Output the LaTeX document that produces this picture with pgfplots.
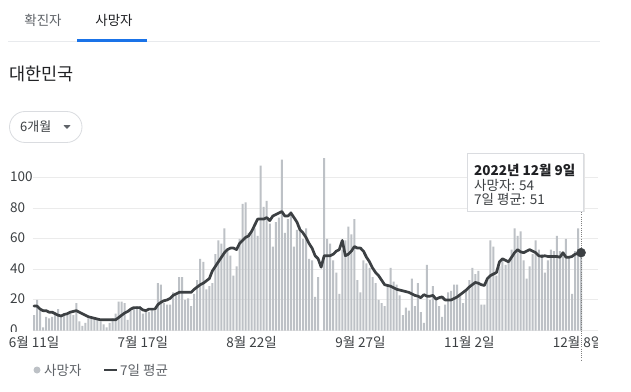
\documentclass[border=0pt]{standalone}
\usepackage{fontspec}
\setmainfont{Noto Sans CJK KR}
\usepackage{pgfplots}
\usepackage{pgfplotstable}
\pgfplotsset{compat=1.18}
\definecolor{bargray}{HTML}{BDC1C6}
\definecolor{linedark}{HTML}{3C4043}
\definecolor{gridc}{HTML}{EBEBEB}
\definecolor{txt}{HTML}{3C4043}
\definecolor{txtlight}{HTML}{5F6368}
\definecolor{gblue}{HTML}{1A73E8}
\definecolor{sepc}{HTML}{E8EAED}
\definecolor{pillc}{HTML}{DADCE0}
\definecolor{titlec}{HTML}{202124}
\newcommand\fs[1]{\fontsize{#1}{#1}\selectfont}
\begin{document}
\pgfplotstableread{
d v
0 10
1 20
2 13
3 2
4 9
5 8
6 9
7 11
8 14
9 10
10 11
11 11
12 11
13 10
14 18
15 6
16 3
17 5
18 8
19 9
20 8
21 7
22 6
23 4
24 2
25 5
26 8
27 11
28 19
29 19
30 18
31 7
32 13
33 14
34 16
35 16
36 11
37 12
38 12
39 14
40 13
41 31
42 30
43 18
44 17
45 17
46 25
47 23
48 35
49 35
50 20
51 21
52 16
53 24
54 33
55 47
56 45
57 27
58 29
59 31
60 50
61 59
62 57
63 67
64 53
65 49
66 36
67 42
68 60
69 83
70 84
71 64
72 65
73 67
74 62
75 108
76 81
77 85
78 70
79 55
80 71
81 74
82 112
83 64
84 73
85 78
86 55
87 66
88 68
89 60
90 67
91 47
92 46
93 22
94 35
95 0
96 113
97 60
98 57
99 46
100 38
101 24
102 53
103 59
104 68
105 63
106 73
107 33
108 25
109 46
110 44
111 41
112 35
113 31
114 20
115 18
116 16
117 30
118 41
119 32
120 30
121 23
122 10
123 15
124 13
125 34
126 16
127 31
128 12
129 5
130 43
131 20
132 29
133 21
134 16
135 9
136 17
137 25
138 26
139 30
140 30
141 24
142 18
143 27
144 33
145 41
146 37
147 39
148 17
149 17
150 33
151 59
152 55
153 36
154 42
155 47
156 43
157 45
158 53
159 67
160 62
161 65
162 46
163 34
164 42
165 50
166 59
167 53
168 50
169 38
170 46
171 53
172 52
173 62
174 52
175 50
176 60
177 48
178 24
179 52
180 67
181 54
}\deaths
\pgfplotstableread{
d a
0 16
1 16
2 14
3 13
4 13
5 12
6 12
7 11
8 10
9 9.5
10 10.5
11 11
12 12
13 12.5
14 13
15 12
16 11
17 10
18 9
19 8.5
20 8
21 7.5
22 7
23 7
24 7
25 7
26 7
27 7
28 8.5
29 10
30 11.5
31 12.5
32 14
33 15
34 15
35 15
36 13.5
37 13
38 14
39 14
40 14
41 17
42 18.5
43 19.5
44 20
45 21
46 23
47 24
48 25
49 25
50 25
51 25
52 25
53 27
54 28.5
55 30
56 31
57 32.5
58 34
59 39
60 42
61 45
62 48
63 51
64 53
65 54
66 54
67 53
68 57
69 59
70 61
71 62
72 65
73 69
74 73
75 73
76 73
77 74
78 72
79 75
80 76
81 77
82 78
83 75
84 75
85 77
86 74
87 71
88 66
89 64
90 61
91 57
92 54
93 49
94 47
95 41.5
96 49
97 49
98 49
99 50
100 52
101 53
102 59
103 49
104 50
105 52
106 55
107 54
108 54
109 52
110 48
111 45
112 41
113 38
114 36
115 33
116 30
117 29.5
118 29
119 28
120 27
121 26.5
122 26
123 25.5
124 25
125 24
126 23
127 22.5
128 21.5
129 23.5
130 22.5
131 22.5
132 23
133 20.5
134 21.5
135 22
136 20
137 20
138 20
139 21
140 22
141 23.5
142 25
143 26.5
144 28.5
145 30
146 31.5
147 31
148 30
149 29.5
150 34
151 36
152 37
153 38
154 45
155 47
156 46
157 45
158 48
159 51
160 53
161 51.5
162 51
163 52
164 53
165 52
166 51
167 49
168 48.5
169 49
170 48.5
171 48.5
172 48.5
173 48.5
174 48
175 51
176 48
177 48
178 48.5
179 50
180 50.5
181 51
}\avg
\begin{tikzpicture}[x=1pt,y=1pt]
\useasboundingbox (0,0) rectangle (631,391);
\fill[white] (0,0) rectangle (631,391);
% tabs
\node[text=txtlight, inner sep=0pt] at (43,371) {\fs{13.5}확진자};
\node[text=titlec, inner sep=0pt] at (114,371) {\fs{13.5}사망자};
\draw[sepc, line width=1pt] (8,349.5) -- (600,349.5);
\fill[gblue] (77,349) rectangle (147,352);
% title
\node[anchor=west, text=titlec, inner sep=0pt] at (9,317) {\fs{17.5}대한민국};
% pill
\draw[pillc, line width=0.8pt, rounded corners=15.5pt] (9.5,248.5) rectangle (82,279.5);
\node[anchor=west, text=txt, inner sep=0pt] at (20,264) {\fs{13}6개월};
\fill[txtlight] (63.5,265.8) -- (70.5,265.8) -- (67,262) -- cycle;
\begin{axis}[
  at={(32.5pt,60.5pt)}, anchor=south west,
  scale only axis, width=565.5pt, height=175.5pt,
  xmin=-0.5, xmax=186.6, ymin=0, ymax=115,
  axis line style={draw=none},
  major tick length=0pt,
  ytick={0,20,40,60,80,100},
  xtick={0,36,72,108,144,180},
  xticklabels={6월 11일,7월 17일,8월 22일,9월 27일,11월 2일,12월 8일},
  ymajorgrids, grid style={draw=gridc, line width=1pt},
  tick label style={font=\fs{13.5}, text=txt},
  yticklabel style={anchor=west, inner sep=0pt, xshift=-22.5pt, yshift=0.8pt},
  xticklabel style={anchor=north, inner sep=0pt, yshift=-6pt},
  /pgf/number format/assume math mode=true,
  clip=false,
]
\addplot[ybar, bar width=2pt, fill=bargray, draw=none] table[x=d, y=v] {\deaths};
\addplot[linedark, line width=2.7pt, line join=round, line cap=round] table[x=d, y=a] {\avg};
\draw[gray, line width=0.8pt, dash pattern=on 1pt off 1.2pt] (axis cs:181,77.5) -- (axis cs:181,-20.5);
\addplot[only marks, mark=*, mark size=4.5pt, linedark] coordinates {(181,51)};
\end{axis}
% clip effects
\fill[white] (598,41) rectangle (631,58);
\fill[white] (0,55.6) rectangle (30,58.6);
% tooltip
\fill[black!10] (468,179) rectangle (584.5,237);
\fill[white, draw=pillc, line width=0.6pt] (467,180) rectangle (583,238);
\node[anchor=west, text=titlec, inner sep=0pt] at (474,220.5) {\fs{13.5}\bfseries 2022년 12월 9일};
\node[anchor=west, text=txt, inner sep=0pt] at (474,206) {\fs{13.5}사망자: 54};
\node[anchor=west, text=txt, inner sep=0pt] at (474,191.5) {\fs{13.5}7일 평균: 51};
% legend
\fill[bargray] (37,21) circle (3.5);
\node[anchor=west, text=txtlight, inner sep=0pt] at (44,21) {\fs{13.5}사망자};
\draw[linedark, line width=2.5pt] (104,21) -- (117,21);
\node[anchor=west, text=txtlight, inner sep=0pt] at (120,21) {\fs{13.5}7일 평균};
\end{tikzpicture}
\end{document}
